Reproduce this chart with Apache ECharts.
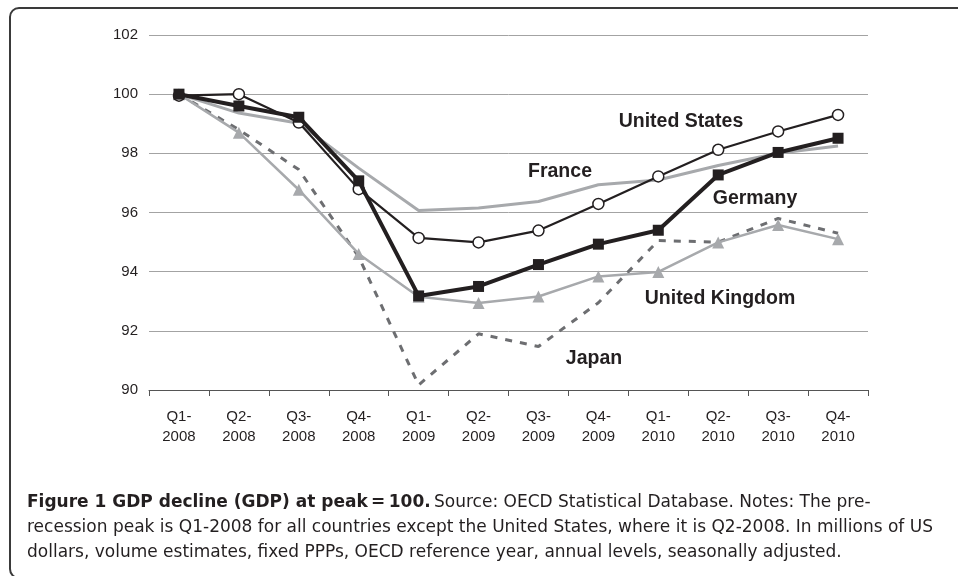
<!DOCTYPE html>
<html>
<head>
<meta charset="utf-8">
<script src="https://cdn.jsdelivr.net/npm/echarts@6/dist/echarts.min.js"></script>
<style>
html,body{margin:0;padding:0;background:#fff;}
#c{width:958px;height:576px;}
</style>
</head>
<body>
<div id="c"></div>
<script>
const categories = ['Q1-\n2008','Q2-\n2008','Q3-\n2008','Q4-\n2008','Q1-\n2009','Q2-\n2009','Q3-\n2009','Q4-\n2009','Q1-\n2010','Q2-\n2010','Q3-\n2010','Q4-\n2010'];
const yTicks = [90, 92, 94, 96, 98, 100, 102];
const germany = [100, 99.6, 99.22, 97.07, 93.18, 93.5, 94.24, 94.93, 95.4, 97.27, 98.03, 98.51];
const unitedStates = [99.95, 100, 99.04, 96.79, 95.14, 94.99, 95.39, 96.29, 97.22, 98.12, 98.74, 99.3];
const france = [100, 99.36, 99.02, 97.5, 96.07, 96.15, 96.37, 96.94, 97.1, 97.59, 98.0, 98.25];
const unitedKingdom = [100, 98.7, 96.77, 94.6, 93.15, 92.94, 93.16, 93.84, 93.99, 94.99, 95.58, 95.1];
const japan = [100, 98.8, 97.45, 94.5, 90.17, 91.9, 91.47, 92.95, 95.05, 95.0, 95.8, 95.3];
const seriesNames = ['United States','France','Germany','United Kingdom','Japan'];

const chart = echarts.init(document.getElementById('c'), null, {renderer:'canvas'});
const txt = '#231f20';
const seriesLabelStyle = {fill: txt, font: 'bold 19.5px "Liberation Sans", Arial, sans-serif', textAlign:'center', textVerticalAlign:'middle'};
const capFont = '"DejaVu Sans", sans-serif';
chart.setOption({
  animation: false,
  backgroundColor: '#fff',
  grid: {left: 149, right: 90, top: 35, bottom: 186},
  xAxis: {
    type: 'category',
    data: categories,
    boundaryGap: true,
    axisLine: {show: true, lineStyle: {color: '#555', width: 1}},
    axisTick: {show: true, length: 6, lineStyle: {color: '#555'}},
    axisLabel: {color: txt, fontSize: 15, fontFamily: '"Liberation Sans", Arial, sans-serif', lineHeight: 20, margin: 17}
  },
  yAxis: {
    type: 'value',
    min: yTicks[0], max: yTicks[yTicks.length-1], interval: 2,
    axisLine: {show: false},
    axisTick: {show: false},
    splitLine: {lineStyle: {color: '#a3a3a3', width: 1}},
    axisLabel: {color: txt, fontSize: 15, fontFamily: '"Liberation Sans", Arial, sans-serif', margin: 11}
  },
  series: [
    {name: seriesNames[4], type: 'line', data: japan, symbol: 'none', z: 2,
     lineStyle: {color: '#6d6e71', width: 3, type: [7, 8]}},
    {name: seriesNames[3], type: 'line', data: unitedKingdom, symbol: 'triangle', symbolSize: 12, z: 3,
     itemStyle: {color: '#a7a9ac'}, lineStyle: {color: '#a7a9ac', width: 2.5}},
    {name: seriesNames[1], type: 'line', data: france, symbol: 'none', z: 4,
     lineStyle: {color: '#a7a9ac', width: 3}},
    {name: seriesNames[0], type: 'line', data: unitedStates, symbol: 'circle', symbolSize: 11, z: 5,
     itemStyle: {color: '#fff', borderColor: '#231f20', borderWidth: 1.5}, lineStyle: {color: '#231f20', width: 2.2}},
    {name: seriesNames[2], type: 'line', data: germany, symbol: 'rect', symbolSize: 11, z: 6,
     itemStyle: {color: '#231f20'}, lineStyle: {color: '#231f20', width: 4}}
  ],
  graphic: [
    {type: 'rect', shape: {x: 10, y: 8, width: 1000, height: 570, r: 9}, style: {fill: 'none', stroke: '#3a3a3a', lineWidth: 2}, silent: true},
    {type: 'text', x: 681, y: 122, style: Object.assign({text: seriesNames[0]}, seriesLabelStyle)},
    {type: 'text', x: 560, y: 172, style: Object.assign({text: seriesNames[1]}, seriesLabelStyle)},
    {type: 'text', x: 755, y: 199, style: Object.assign({text: seriesNames[2]}, seriesLabelStyle)},
    {type: 'text', x: 720, y: 299, style: Object.assign({text: seriesNames[3]}, seriesLabelStyle)},
    {type: 'text', x: 594, y: 359, style: Object.assign({text: seriesNames[4]}, seriesLabelStyle)},
    {type: 'text', x: 27, y: 503, style: {
      text: '{b|Figure 1 GDP decline (GDP) at peak\u2009=\u2009100.} {r|Source: OECD Statistical Database. Notes: The pre-}',
      textVerticalAlign: 'middle',
      rich: {
        b: {font: 'bold 17px ' + capFont, fill: txt},
        r: {font: '17px ' + capFont, fill: txt}
      }
    }},
    {type: 'text', x: 27, y: 528, style: {text: 'recession peak is Q1-2008 for all countries except the United States, where it is Q2-2008. In millions of US', font: '17px ' + capFont, fill: txt, textVerticalAlign: 'middle'}},
    {type: 'text', x: 27, y: 553, style: {text: 'dollars, volume estimates, fixed PPPs, OECD reference year, annual levels, seasonally adjusted.', font: '17px ' + capFont, fill: txt, textVerticalAlign: 'middle'}}
  ]
});
</script>
</body>
</html>
